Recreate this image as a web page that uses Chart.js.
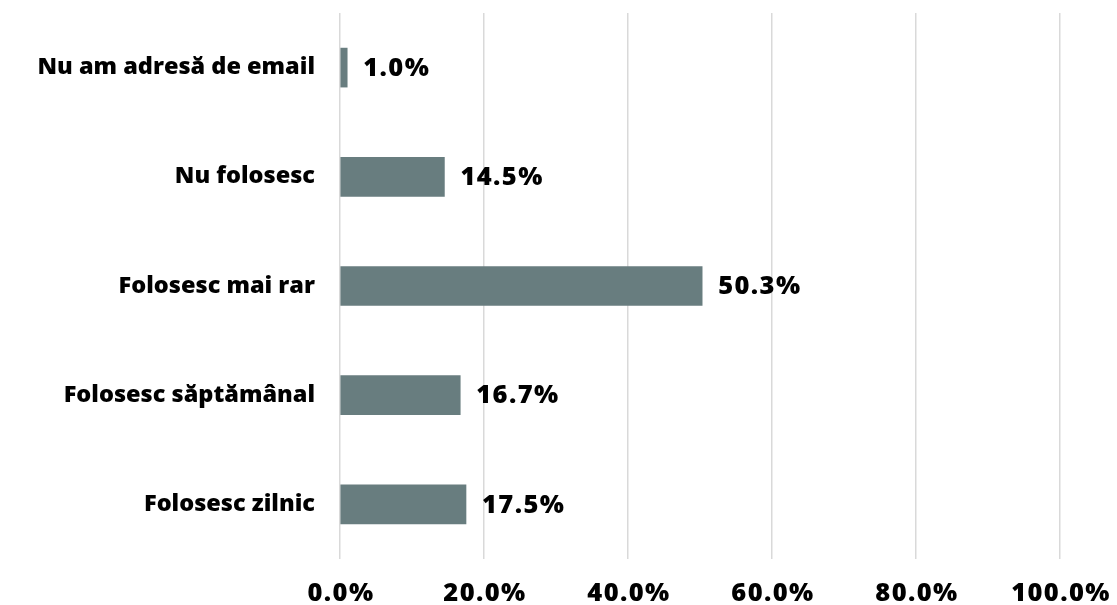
<!DOCTYPE html>
<html>
<head>
<meta charset="utf-8">
<script src="https://cdn.jsdelivr.net/npm/chart.js@4/dist/chart.umd.min.js"></script>
<style>
  html, body { margin: 0; padding: 0; background: #ffffff; }
  #wrap { width: 1117px; height: 605px; }
</style>
</head>
<body>
<div id="wrap"><canvas id="c" width="1117" height="605"></canvas></div>
<script>
const categories = ['Nu am adresă de email', 'Nu folosesc', 'Folosesc mai rar', 'Folosesc săptămânal', 'Folosesc zilnic'];
const values = [1.0, 14.5, 50.3, 16.7, 17.5];
const xTicks = [0, 20, 40, 60, 80, 100];

const FONT = "'Open Sans', Lato, sans-serif";
const NUM_FONT = "800 25.5px " + FONT;
const NUM_SPACING = '1.4px';

const pct = (v) => Number(v).toFixed(1) + '%';

// Value labels past each bar end, plus the percentage labels under the x axis
const numberLabels = {
  id: 'numberLabels',
  afterDatasetsDraw(chart) {
    const ctx = chart.ctx;
    const meta = chart.getDatasetMeta(0);
    const xScale = chart.scales.x;
    ctx.save();
    ctx.font = NUM_FONT;
    ctx.letterSpacing = NUM_SPACING;
    ctx.fillStyle = '#000000';
    ctx.textBaseline = 'middle';

    ctx.textAlign = 'left';
    meta.data.forEach((bar, i) => {
      ctx.fillText(pct(values[i]), bar.x + 16, bar.y + 1);
    });

    ctx.textAlign = 'center';
    xTicks.forEach((v) => {
      ctx.fillText(pct(v), xScale.getPixelForValue(v) + 1, xScale.bottom - 11);
    });
    ctx.restore();
  }
};

new Chart(document.getElementById('c'), {
  type: 'bar',
  data: {
    labels: categories,
    datasets: [{
      data: values,
      backgroundColor: '#687d7f',
      borderWidth: 0,
      barThickness: 39
    }]
  },
  options: {
    indexAxis: 'y',
    responsive: false,
    animation: false,
    layout: { padding: { top: 13, right: 57, left: 0, bottom: 0 } },
    plugins: { legend: { display: false }, tooltip: { enabled: false } },
    scales: {
      x: {
        min: 0,
        max: 100,
        afterBuildTicks(scale) { scale.ticks = xTicks.map(v => ({ value: v })); },
        afterFit(scale) {
          scale.height = 46;
          scale.paddingLeft = 0; scale.paddingRight = 0;
          scale.paddingTop = 0; scale.paddingBottom = 0;
        },
        grid: { color: '#d9d9d9', lineWidth: 1.5, drawTicks: false },
        border: { display: false },
        ticks: { display: false }
      },
      y: {
        afterFit(scale) {
          scale.width = 340;
          scale.paddingTop = 0; scale.paddingBottom = 0;
          scale.paddingLeft = 0; scale.paddingRight = 0;
        },
        grid: { display: false, drawTicks: false },
        border: { display: false },
        ticks: {
          padding: 25,
          color: '#000000',
          font: { family: FONT, size: 23.5, weight: '800' }
        }
      }
    }
  },
  plugins: [numberLabels]
});
</script>
</body>
</html>
